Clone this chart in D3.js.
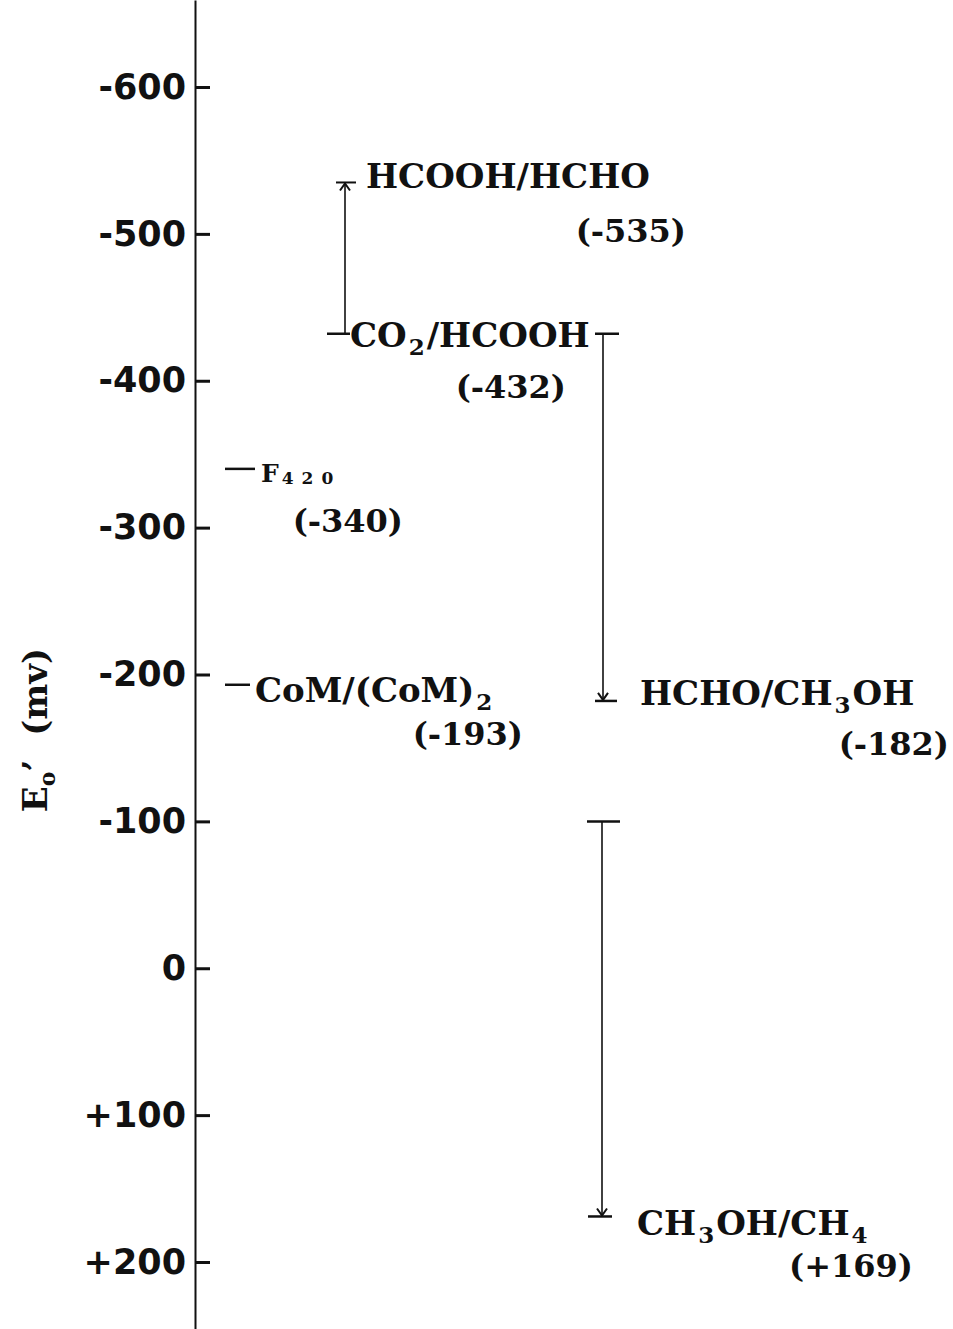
<!doctype html>
<html>
<head>
<meta charset="utf-8">
<title>Redox potentials</title>
<style>
  body { margin: 0; background: #fff; }
</style>
</head>
<body>
<div id="chart"></div>
<script src="https://d3js.org/d3.v7.min.js"></script>
<script>
// axis ticks
var tickValues = [-600, -500, -400, -300, -200, -100, 0, 100, 200];
var tickLabels = ["-600", "-500", "-400", "-300", "-200", "-100", "0", "+100", "+200"];

// redox couples ("_n" = subscript) and their E0' in mV
var couples = ["HCOOH/HCHO", "CO_2/HCOOH", "F_420", "CoM/(CoM)_2", "HCHO/CH_3OH", "CH_3OH/CH_4"];
var potentials = [-535, -432, -340, -193, -182, 169];
var potentialLabels = ["(-535)", "(-432)", "(-340)", "(-193)", "(-182)", "(+169)"];

// reduction steps drawn as arrows (from -> to, mV)
var stepFrom = [-432, -432, -100];
var stepTo = [-535, -182, 169];

var W = 953, H = 1329;
var axisX = 195;

var svg = d3.select("#chart").append("svg")
    .attr("width", W).attr("height", H);

// y scale: -600 sits at 87px, +200 at 1262px; axis line runs over full height
var y = d3.scaleLinear().domain([-600, 200]).range([87, 1262]);
var yFull = y.copy().domain([y.invert(0), y.invert(H)]).range([0, H]);

// axis
var axis = d3.axisLeft(yFull)
    .tickValues(tickValues)
    .tickFormat(function(d, i) { return tickLabels[i]; })
    .tickSizeInner(-15)
    .tickSizeOuter(0)
    .tickPadding(9);

var gAxis = svg.append("g")
    .attr("transform", "translate(" + axisX + ",0)")
    .call(axis);
gAxis.select(".domain").attr("stroke", "#111").attr("stroke-width", 2);
gAxis.selectAll(".tick line").attr("stroke", "#111").attr("stroke-width", 3);
gAxis.selectAll(".tick text")
    .attr("fill", "#111")
    .attr("font-family", "'DejaVu Sans', sans-serif")
    .attr("font-weight", "bold")
    .attr("font-size", 35);

// axis title
var title = svg.append("text")
    .attr("transform", "translate(47,730) rotate(-90)")
    .attr("text-anchor", "middle")
    .attr("font-family", "'DejaVu Serif', serif")
    .attr("font-weight", "bold")
    .attr("font-size", 34)
    .attr("fill", "#111");
title.append("tspan").text("E");
title.append("tspan").attr("font-size", 22).attr("dy", 8).text("o");
title.append("tspan").attr("dy", -8).text("\u2019");
title.append("tspan").attr("dx", 24).text("(mv)");

// text with subscripts
function richText(sel, str, size, sub) {
  var parts = str.split(/_(\d+)/);
  var shift = 0;
  parts.forEach(function(p, i) {
    if (!p) return;
    var t = sel.append("tspan").text(p);
    if (i % 2) {
      var s = Math.round(size * sub.dy);
      t.attr("font-size", Math.round(size * sub.size))
        .attr("dx", sub.dx).attr("dy", s - shift)
        .attr("letter-spacing", sub.ls);
      shift = s;
    } else if (shift) {
      t.attr("dy", -shift).attr("dx", sub.dx);
      shift = 0;
    }
  });
}

var subStd = { size: 0.68, dy: 0.24, dx: 2, ls: 0 };
var subF = { size: 0.66, dy: 0.08, dx: 3, ls: 8 };

// layout for each couple: dash (x0,x1) or null, text x, text baseline offset,
// label right edge, label baseline offset, font size
var place = [
  { dash: null,       tx: 366, ty: 6,  lx: 686, ly: 60, fs: 34, sub: subStd },
  { dash: [327, 350], tx: 350, ty: 13, lx: 566, ly: 64, fs: 34, sub: subStd },
  { dash: [225, 255], tx: 261, ty: 13, lx: 403, ly: 63, fs: 25, sub: subF },
  { dash: [225, 250], tx: 255, ty: 17, lx: 523, ly: 60, fs: 34, sub: subStd },
  { dash: null,       tx: 640, ty: 4,  lx: 949, ly: 54, fs: 34, sub: subStd },
  { dash: null,       tx: 637, ty: 19, lx: 913, ly: 61, fs: 34, sub: subStd }
];

var gC = svg.append("g").attr("fill", "#111");
couples.forEach(function(c, i) {
  var p = place[i], yy = y(potentials[i]);
  if (p.dash) {
    gC.append("line")
      .attr("x1", p.dash[0]).attr("x2", p.dash[1])
      .attr("y1", yy).attr("y2", yy)
      .attr("stroke", "#111").attr("stroke-width", 2.5);
  }
  var t = gC.append("text")
    .attr("x", p.tx).attr("y", yy + p.ty)
    .attr("font-family", "'DejaVu Serif', serif")
    .attr("font-weight", "bold")
    .attr("font-size", p.fs);
  richText(t, c, p.fs, p.sub);
  gC.append("text")
    .attr("x", p.lx).attr("y", yy + p.ly)
    .attr("text-anchor", "end")
    .attr("font-family", "'DejaVu Serif', serif")
    .attr("font-weight", "bold")
    .attr("font-size", 32)
    .text(potentialLabels[i]);
});

// step arrows: x position and end-bar extents (layout)
var stepPlace = [
  { x: 345, top: [336, 356], bot: null },
  { x: 603, top: [595, 619], bot: [595, 617] },
  { x: 602, top: [587, 620], bot: [588, 612] }
];

var gS = svg.append("g").attr("stroke", "#111").attr("fill", "none");
stepFrom.forEach(function(f, i) {
  var s = stepPlace[i];
  var y0 = y(f), y1 = y(stepTo[i]);
  var dir = y1 < y0 ? -1 : 1;   // -1 = arrow points up
  gS.append("line")
    .attr("x1", s.x).attr("x2", s.x)
    .attr("y1", y0).attr("y2", y1)
    .attr("stroke-width", 1.6);
  // bar at the upper end
  gS.append("line")
    .attr("x1", s.top[0]).attr("x2", s.top[1])
    .attr("y1", dir < 0 ? y1 : y0).attr("y2", dir < 0 ? y1 : y0)
    .attr("stroke-width", dir < 0 ? 2 : 2.5);
  if (s.bot) {
    gS.append("line")
      .attr("x1", s.bot[0]).attr("x2", s.bot[1])
      .attr("y1", y1).attr("y2", y1)
      .attr("stroke-width", 2.5);
  }
  // arrowhead at the target end
  var tip = y1 - dir * 1;
  gS.append("path")
    .attr("d", "M" + (s.x - 5) + "," + (tip - dir * 7) + "L" + s.x + "," + tip + "L" + (s.x + 5) + "," + (tip - dir * 7))
    .attr("stroke-width", 2);
});
</script>
</body>
</html>
